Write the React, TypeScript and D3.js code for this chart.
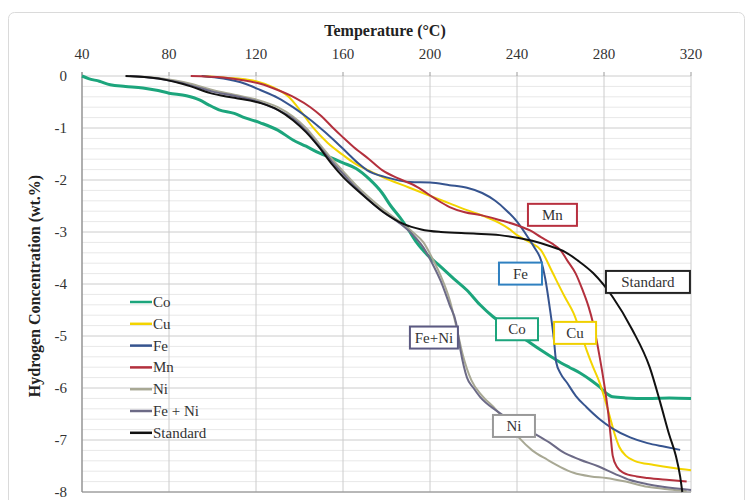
import React from "react";
import * as d3 from "d3";

type Pt = [number, number];

const xTicks = [40, 80, 120, 160, 200, 240, 280, 320];
const yTicks = [0, -1, -2, -3, -4, -5, -6, -7, -8];

const coData: Pt[] = [[40,0],[43,-0.05],[48,-0.1],[53,-0.17],[60,-0.2],[68,-0.23],[75,-0.28],[80,-0.33],[88,-0.38],[94,-0.46],[98,-0.55],[103,-0.65],[110,-0.72],[114,-0.79],[122,-0.9],[130,-1.04],[137,-1.23],[143,-1.35],[149,-1.48],[155,-1.58],[160,-1.67],[166,-1.78],[172,-1.98],[178,-2.25],[182,-2.5],[186,-2.71],[190,-2.95],[194,-3.21],[199,-3.45],[205,-3.67],[211,-3.9],[217,-4.12],[223,-4.4],[229,-4.63],[235,-4.8],[240,-4.95],[246,-5.13],[252,-5.3],[258,-5.46],[264,-5.6],[269,-5.71],[274,-5.85],[278,-5.98],[281,-6.1],[284,-6.17],[290,-6.19],[300,-6.2],[310,-6.19],[320,-6.2]];

const cuData: Pt[] = [[95,0],[105,-0.03],[112,-0.05],[120,-0.1],[128,-0.22],[135,-0.4],[141,-0.7],[146,-0.98],[153,-1.29],[160,-1.52],[165,-1.67],[172,-1.82],[178,-1.94],[190,-2.14],[201,-2.32],[209,-2.45],[217,-2.58],[225,-2.7],[232,-2.83],[236,-2.93],[240,-3.06],[246,-3.2],[251,-3.35],[256,-3.75],[258,-3.92],[262,-4.25],[266,-4.56],[269,-4.9],[272,-5.27],[275,-5.6],[278,-5.9],[281,-6.3],[283,-6.6],[285,-6.9],[287,-7.13],[290,-7.3],[294,-7.4],[303,-7.48],[312,-7.54],[320,-7.58]];

const feData: Pt[] = [[95,0],[105,-0.05],[115,-0.15],[122,-0.27],[130,-0.42],[137,-0.6],[143,-0.78],[149,-0.98],[155,-1.2],[162,-1.48],[167,-1.68],[171,-1.81],[180,-1.95],[191,-2.04],[200,-2.05],[209,-2.1],[217,-2.15],[224,-2.25],[230,-2.4],[235,-2.58],[240,-2.8],[245,-3.1],[248,-3.3],[251,-3.54],[253,-3.9],[255,-4.44],[257,-5.08],[258,-5.5],[260,-5.72],[263,-5.9],[267,-6.15],[272,-6.37],[278,-6.6],[284,-6.78],[292,-6.95],[300,-7.06],[308,-7.13],[315,-7.19]];

const mnData: Pt[] = [[90,0],[105,-0.03],[114,-0.08],[122,-0.15],[130,-0.27],[138,-0.42],[145,-0.6],[150,-0.77],[155,-0.98],[160,-1.18],[165,-1.37],[172,-1.6],[178,-1.81],[186,-1.98],[194,-2.13],[202,-2.35],[209,-2.52],[216,-2.62],[224,-2.68],[232,-2.77],[240,-2.87],[246,-2.97],[251,-3.1],[256,-3.22],[260,-3.35],[263,-3.54],[267,-3.8],[270,-4.1],[273,-4.45],[275,-4.76],[278,-5.4],[280,-5.9],[282,-6.5],[283,-6.9],[284,-7.3],[286,-7.52],[289,-7.63],[295,-7.7],[300,-7.73],[310,-7.77],[318,-7.8]];

const niData: Pt[] = [[62,0],[75,-0.04],[90,-0.15],[100,-0.27],[110,-0.36],[120,-0.45],[130,-0.6],[137,-0.78],[143,-1.0],[149,-1.3],[155,-1.6],[160,-1.83],[166,-2.1],[171,-2.3],[178,-2.55],[186,-2.8],[192,-3.0],[197,-3.2],[201,-3.5],[205,-3.85],[209,-4.3],[212,-4.8],[215,-5.35],[219,-5.85],[224,-6.15],[230,-6.4],[236,-6.7],[241,-6.96],[247,-7.2],[254,-7.38],[260,-7.52],[266,-7.63],[274,-7.7],[281,-7.73],[290,-7.8],[300,-7.9],[310,-7.95],[318,-7.98]];

const feNiData: Pt[] = [[62,0],[75,-0.05],[90,-0.18],[100,-0.3],[110,-0.38],[120,-0.48],[130,-0.65],[137,-0.82],[143,-1.05],[149,-1.35],[155,-1.65],[160,-1.88],[166,-2.15],[171,-2.35],[178,-2.6],[186,-2.83],[192,-3.05],[197,-3.3],[201,-3.6],[205,-3.95],[209,-4.4],[212,-4.75],[214,-5.27],[217,-5.8],[220,-6.0],[223,-6.17],[231,-6.45],[240,-6.7],[249,-6.9],[255,-7.05],[261,-7.23],[269,-7.38],[277,-7.5],[285,-7.65],[292,-7.77],[300,-7.85],[307,-7.9],[320,-7.96]];

const standardData: Pt[] = [[60,0],[75,-0.05],[90,-0.2],[99,-0.33],[110,-0.42],[122,-0.52],[130,-0.65],[137,-0.85],[143,-1.08],[149,-1.37],[155,-1.7],[160,-1.94],[168,-2.25],[178,-2.6],[188,-2.85],[196,-2.95],[205,-3.0],[220,-3.03],[232,-3.06],[247,-3.17],[255,-3.27],[262,-3.38],[268,-3.55],[275,-3.79],[284,-4.25],[293,-4.88],[301,-5.6],[306,-6.3],[310,-6.9],[313,-7.3],[315,-7.7],[316,-8.0]];

const seriesNames = ["Co", "Cu", "Fe", "Mn", "Ni", "Fe + Ni", "Standard"];
const seriesData = [coData, cuData, feData, mnData, niData, feNiData, standardData];
const seriesColors = ["#1ca57c", "#f3d400", "#36548f", "#b3303d", "#a8a894", "#6c6a86", "#111111"];
const seriesWidths = [3, 2, 2, 2, 2, 2, 2];

const labelTexts = ["Mn", "Fe", "Standard", "Co", "Cu", "Fe+Ni", "Ni"];
const labelT = [256.3, 241.6, 300.2, 240, 266.7, 201.8, 238.6];
const labelH = [-2.67, -3.8, -3.96, -4.87, -4.94, -5.03, -6.73];
const labelColors = ["#b8303f", "#2f80c0", "#222222", "#1ca57c", "#f0d000", "#5c5a82", "#999999"];
const labelWidths = [49, 43, 84, 42, 42, 48, 42];

const W = 749;
const H = 500;
const serif = "'Liberation Serif', 'DejaVu Serif', serif";

export default function App() {
  const x = d3.scaleLinear().domain([40, 320]).range([82, 691]);
  const y = d3.scaleLinear().domain([0, -8]).range([76, 492]);
  const line = d3
    .line<Pt>()
    .x((d) => x(d[0]))
    .y((d) => y(d[1]))
    .curve(d3.curveMonotoneX);
  const minorY = d3.range(0, -8.0001, -0.2).filter((v) => Math.abs(v - Math.round(v)) > 0.01);

  return (
    <svg width={W} height={H} style={{ position: "absolute", left: 0, top: 0, background: "#fff" }}>
      <rect x={8.5} y={12.5} width={736} height={495} rx={6} fill="#fff" stroke="#dadada" strokeWidth={1} />
      {minorY.map((v, i) => (
        <line key={"mn" + i} x1={x(40)} x2={x(320)} y1={y(v)} y2={y(v)} stroke="#e8e8e8" strokeWidth={1} />
      ))}
      {yTicks.map((v) => (
        <line key={"gy" + v} x1={x(40)} x2={x(320)} y1={y(v)} y2={y(v)} stroke="#cccccc" strokeWidth={1} />
      ))}
      {xTicks.map((v) => (
        <line key={"gx" + v} x1={x(v)} x2={x(v)} y1={y(0)} y2={y(-8)} stroke="#cccccc" strokeWidth={1} />
      ))}
      <line x1={x(40)} x2={x(40)} y1={y(0) - 4} y2={y(-8)} stroke="#8a8a8a" strokeWidth={1.2} />
      <line x1={x(40)} x2={x(320)} y1={y(-8)} y2={y(-8)} stroke="#8a8a8a" strokeWidth={1.2} />
      {xTicks.map((v) => (
        <line key={"tx" + v} x1={x(v)} x2={x(v)} y1={y(0) - 4} y2={y(0)} stroke="#9a9a9a" strokeWidth={1} />
      ))}
      {xTicks.map((v) => (
        <text key={"lx" + v} x={x(v)} y={59} textAnchor="middle" fontFamily={serif} fontSize={15} fill="#333">
          {v}
        </text>
      ))}
      {yTicks.map((v) => (
        <text key={"ly" + v} x={67} y={y(v) + 5} textAnchor="end" fontFamily={serif} fontSize={15} fill="#333">
          {v}
        </text>
      ))}
      <text x={385} y={36} textAnchor="middle" fontFamily={serif} fontSize={16} fontWeight="bold" fill="#222">
        Temperature (°C)
      </text>
      <text
        transform={`translate(40,${286}) rotate(-90)`}
        textAnchor="middle"
        fontFamily={serif}
        fontSize={16}
        fontWeight="bold"
        fill="#222"
      >
        Hydrogen Concentration (wt.%)
      </text>
      {seriesData.map((d, i) => (
        <path
          key={"s" + i}
          d={line(d) || ""}
          fill="none"
          stroke={seriesColors[i]}
          strokeWidth={seriesWidths[i]}
          strokeLinejoin="round"
        />
      ))}
      {seriesNames.map((n, i) => (
        <g key={"lg" + i} transform={`translate(130,${302 + i * 21.8})`}>
          <line x1={0} x2={22} y1={0} y2={0} stroke={seriesColors[i]} strokeWidth={2.5} />
          <text x={23} y={5} fontFamily={serif} fontSize={15} fill="#333">
            {n}
          </text>
        </g>
      ))}
      {labelTexts.map((t, i) => {
        const cx = x(labelT[i]);
        const cy = y(labelH[i]);
        const w = labelWidths[i];
        return (
          <g key={"an" + i}>
            <rect x={cx - w / 2} y={cy - 11} width={w} height={22} fill="#fff" stroke={labelColors[i]} strokeWidth={2} />
            <text x={cx} y={cy + 5} textAnchor="middle" fontFamily={serif} fontSize={15} fill="#333">
              {t}
            </text>
          </g>
        );
      })}
    </svg>
  );
}
